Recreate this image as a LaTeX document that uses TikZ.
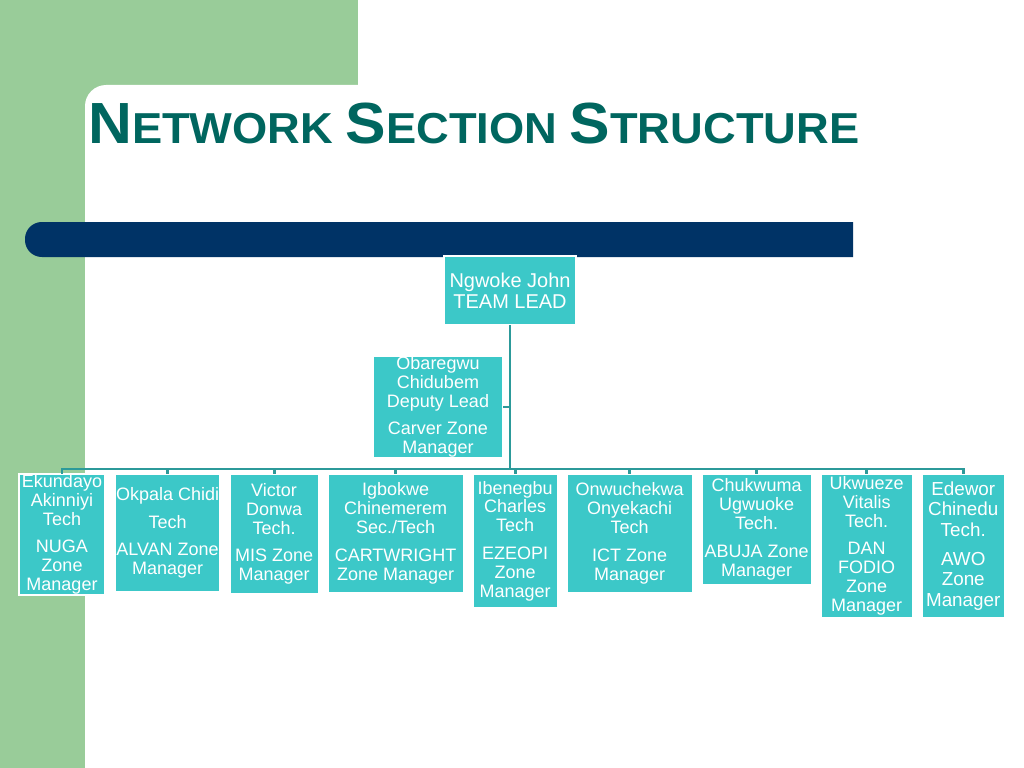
\documentclass[tikz,border=0pt]{standalone}
\usepackage{fontspec}
\setmainfont{Liberation Sans}
\usetikzlibrary{positioning,calc}
\usepackage{xcolor}
\usepackage{graphicx}
\definecolor{nsGreen}{HTML}{99CC99}
\definecolor{nsNavy}{HTML}{003366}
\definecolor{nsTitle}{HTML}{00665F}
\definecolor{nsBox}{HTML}{3CC8C8}
\definecolor{nsLine}{HTML}{2C9A9A}
\newcommand\titlecap[1]{{\fontsize{41.3}{45}\selectfont #1}}

\begin{document}
\begin{tikzpicture}[x=0.025cm, y=-0.025cm,
  box/.style={draw=white, line width=0.8pt, fill=nsBox, text=white, align=center, inner sep=0pt, outer sep=0pt, font=\fontsize{12.8}{13.5}\selectfont},
  link/.style={nsLine, line width=2.1pt}]
\useasboundingbox (0,0) rectangle (1024,768);
\fill[white] (0,0) rectangle (1024,768);
\fill[nsGreen] (0,0) rectangle (358,120);
\fill[nsGreen] (0,0) rectangle (85,768);
\fill[white, rounded corners=15pt] (85,85) rectangle (1100,850);
\fill[nsNavy] (853,222) [rounded corners=12pt] -- (25,222) -- (25,257) [sharp corners] -- (853,257) -- cycle;

\node[anchor=base west, inner sep=0pt, text=nsTitle, font=\fontsize{30.8}{34}\selectfont\bfseries] (title) at (88,143.5)
  {\scalebox{1.045}[1]{\titlecap{N}ETWORK \titlecap{S}ECTION \titlecap{S}TRUCTURE}};

\node[box, font=\fontsize{14.2}{15}\selectfont, minimum width=3.3cm, minimum height=1.725cm] (lead) at (510,290.5) {Ngwoke John\\TEAM LEAD};
\node[box, minimum width=3.25cm, minimum height=2.5cm] (dep) at (438,407) {Obaregwu\\Chidubem\\Deputy Lead\\[6pt]Carver Zone\\Manager};

\node[box, anchor=north, minimum width=2.15cm, minimum height=3.025cm] (z1) at (62,474) {Ekundayo\\Akinniyi\\Tech\\[6pt]NUGA\\Zone\\Manager};
\node[box, right=0.25cm of z1.north east, anchor=north west, minimum width=2.625cm, minimum height=2.95cm] (z2) {Okpala Chidi\\[6pt]Tech\\[6pt]ALVAN Zone\\Manager};
\node[box, right=0.25cm of z2.north east, anchor=north west, minimum width=2.2cm, minimum height=3cm] (z3) {Victor\\Donwa\\Tech.\\[6pt]MIS Zone\\Manager};
\node[box, right=0.25cm of z3.north east, anchor=north west, minimum width=3.375cm, minimum height=2.975cm] (z4) {Igbokwe\\Chinemerem\\Sec./Tech\\[6pt]CARTWRIGHT\\Zone Manager};
\node[box, right=0.25cm of z4.north east, anchor=north west, minimum width=2.1cm, minimum height=3.35cm] (z5) {Ibenegbu\\Charles\\Tech\\[6pt]EZEOPI\\Zone\\Manager};
\node[box, right=0.25cm of z5.north east, anchor=north west, minimum width=3.125cm, minimum height=2.975cm] (z6) {Onwuchekwa\\Onyekachi\\Tech\\[6pt]ICT Zone\\Manager};
\node[box, right=0.25cm of z6.north east, anchor=north west, minimum width=2.725cm, minimum height=2.775cm] (z7) {Chukwuma\\Ugwuoke\\Tech.\\[6pt]ABUJA Zone\\Manager};
\node[box, right=0.25cm of z7.north east, anchor=north west, minimum width=2.275cm, minimum height=3.6cm] (z8) {Ukwueze\\Vitalis\\Tech.\\[6pt]DAN\\FODIO\\Zone\\Manager};
\node[box, right=0.25cm of z8.north east, anchor=north west, minimum width=2.05cm, minimum height=3.6cm, font=\fontsize{13.4}{14.6}\selectfont] (z9) {Edewor\\Chinedu\\Tech.\\[6pt]AWO\\Zone\\Manager};

\coordinate (bus) at (lead.south |- 0,469);
\draw[link] (lead.south) -- (bus);
\draw[link] (dep.east) -- (dep.east -| lead.south);
\foreach \i in {1,...,9}
  \draw[link] (bus) -| (z\i.north);
\end{tikzpicture}
\end{document}
